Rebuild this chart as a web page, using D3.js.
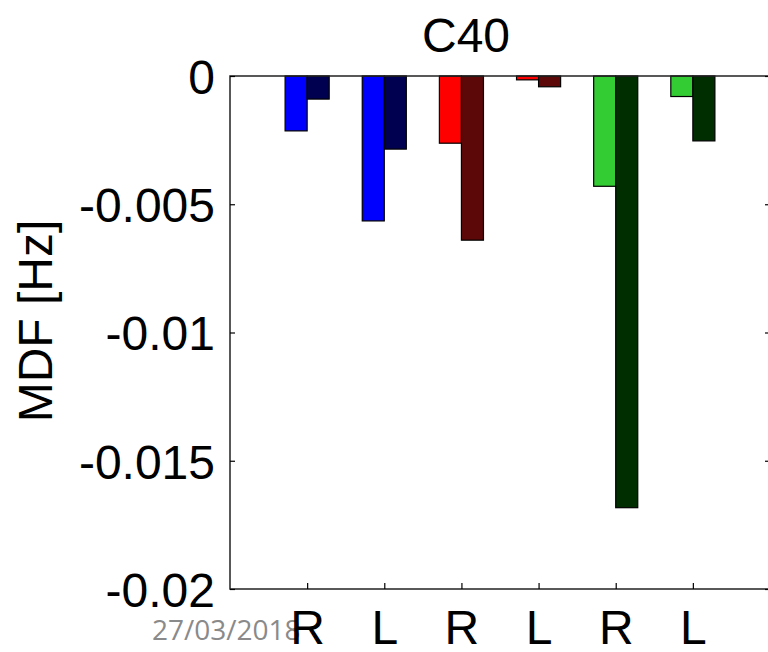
<!DOCTYPE html>
<html>
<head>
<meta charset="utf-8">
<script src="https://cdn.jsdelivr.net/npm/d3@7"></script>
<style>
  html, body { margin: 0; padding: 0; background: #fff; }
  svg { display: block; }
</style>
</head>
<body>
<script>
// Categories (side) and MDF change values for the two series per group
const categories = ["R", "L", "R", "L", "R", "L"];
const firstValues = [-0.00214, -0.00565, -0.00262, -0.00015, -0.0043, -0.0008];
const secondValues = [-0.0009, -0.00285, -0.0064, -0.00042, -0.01683, -0.00253];
const firstColors = ["#0000ff", "#0000ff", "#ff0000", "#ff0000", "#33cc33", "#33cc33"];
const secondColors = ["#000050", "#000050", "#5c0808", "#5c0808", "#002e00", "#002e00"];
const yTicks = [0, -0.005, -0.01, -0.015, -0.02];
const yTickLabels = ["0", "-0.005", "-0.01", "-0.015", "-0.02"];
const titleText = "C40";
const yLabelText = "MDF [Hz]";
const dateText = "27/03/2018";

const W = 768, H = 652;
const plotLeft = 230, plotRight = 770, plotTop = 76, plotBottom = 589;
const barW = 0.2857;

const svg = d3.select("body").append("svg").attr("width", W).attr("height", H);

const x = d3.scaleLinear().domain([0, 7]).range([plotLeft, plotRight]);
const y = d3.scaleLinear().domain([-0.02, 0]).range([plotBottom, plotTop]);

const font = "'Liberation Sans', Arial, sans-serif";

// Bars: lighter series on the left of each category, darker on the right
const groups = categories.map((c, i) => ({ c, i, v1: firstValues[i], v2: secondValues[i] }));

svg.append("g").selectAll("rect").data(groups).join("rect")
  .attr("x", d => x(d.i + 1 - barW))
  .attr("y", y(0))
  .attr("width", d => x(d.i + 1) - x(d.i + 1 - barW))
  .attr("height", d => y(d.v1) - y(0))
  .attr("fill", d => firstColors[d.i])
  .attr("stroke", "#000").attr("stroke-width", 1.2);

svg.append("g").selectAll("rect").data(groups).join("rect")
  .attr("x", d => x(d.i + 1))
  .attr("y", y(0))
  .attr("width", d => x(d.i + 1 + barW) - x(d.i + 1))
  .attr("height", d => y(d.v2) - y(0))
  .attr("fill", d => secondColors[d.i])
  .attr("stroke", "#000").attr("stroke-width", 1.2);

// Box around the plot
svg.append("rect")
  .attr("x", plotLeft).attr("y", plotTop)
  .attr("width", plotRight - plotLeft).attr("height", plotBottom - plotTop)
  .attr("fill", "none").attr("stroke", "#222").attr("stroke-width", 1.5);

// Left axis
const yAxis = d3.axisLeft(y).tickValues(yTicks)
  .tickFormat((d, i) => yTickLabels[i]).tickSizeInner(-5).tickSizeOuter(0).tickPadding(15);
const gy = svg.append("g").attr("transform", `translate(${plotLeft},0)`).call(yAxis);
gy.select(".domain").remove();
gy.selectAll("line").attr("stroke", "#000").attr("stroke-width", 1.2);
gy.selectAll("text").attr("font-family", font).attr("font-size", 48).attr("fill", "#000")
  .attr("dy", "0.36em");

// Right-side tick marks
const gyr = svg.append("g").attr("transform", `translate(${plotRight},0)`)
  .call(d3.axisRight(y).tickValues(yTicks).tickSizeInner(-5).tickSizeOuter(0).tickFormat(""));
gyr.select(".domain").remove();
gyr.selectAll("line").attr("stroke", "#000").attr("stroke-width", 1.2);

// Date stamp
svg.append("text")
  .attr("x", 152).attr("y", 640)
  .attr("font-family", "'Open Sans', sans-serif").attr("font-size", 28)
  .attr("fill", "#8a8a8a")
  .text(dateText);

// Bottom axis
const xAxis = d3.axisBottom(x).tickValues(categories.map((c, i) => i + 1))
  .tickFormat((d, i) => categories[i]).tickSizeInner(-6).tickSizeOuter(0).tickPadding(21);
const gx = svg.append("g").attr("transform", `translate(0,${plotBottom})`).call(xAxis);
gx.select(".domain").remove();
gx.selectAll("line").attr("stroke", "#000").attr("stroke-width", 1.2);
gx.selectAll("text").attr("font-family", font).attr("font-size", 48).attr("fill", "#000")
  .attr("dy", "0.71em");

// Title
svg.append("text")
  .attr("x", 466).attr("y", 52)
  .attr("text-anchor", "middle")
  .attr("font-family", font).attr("font-size", 48).attr("fill", "#000")
  .text(titleText);

// Y axis label
svg.append("text")
  .attr("transform", "translate(52,321) rotate(-90)")
  .attr("text-anchor", "middle")
  .attr("font-family", font).attr("font-size", 48).attr("fill", "#000")
  .text(yLabelText);
</script>
</body>
</html>
